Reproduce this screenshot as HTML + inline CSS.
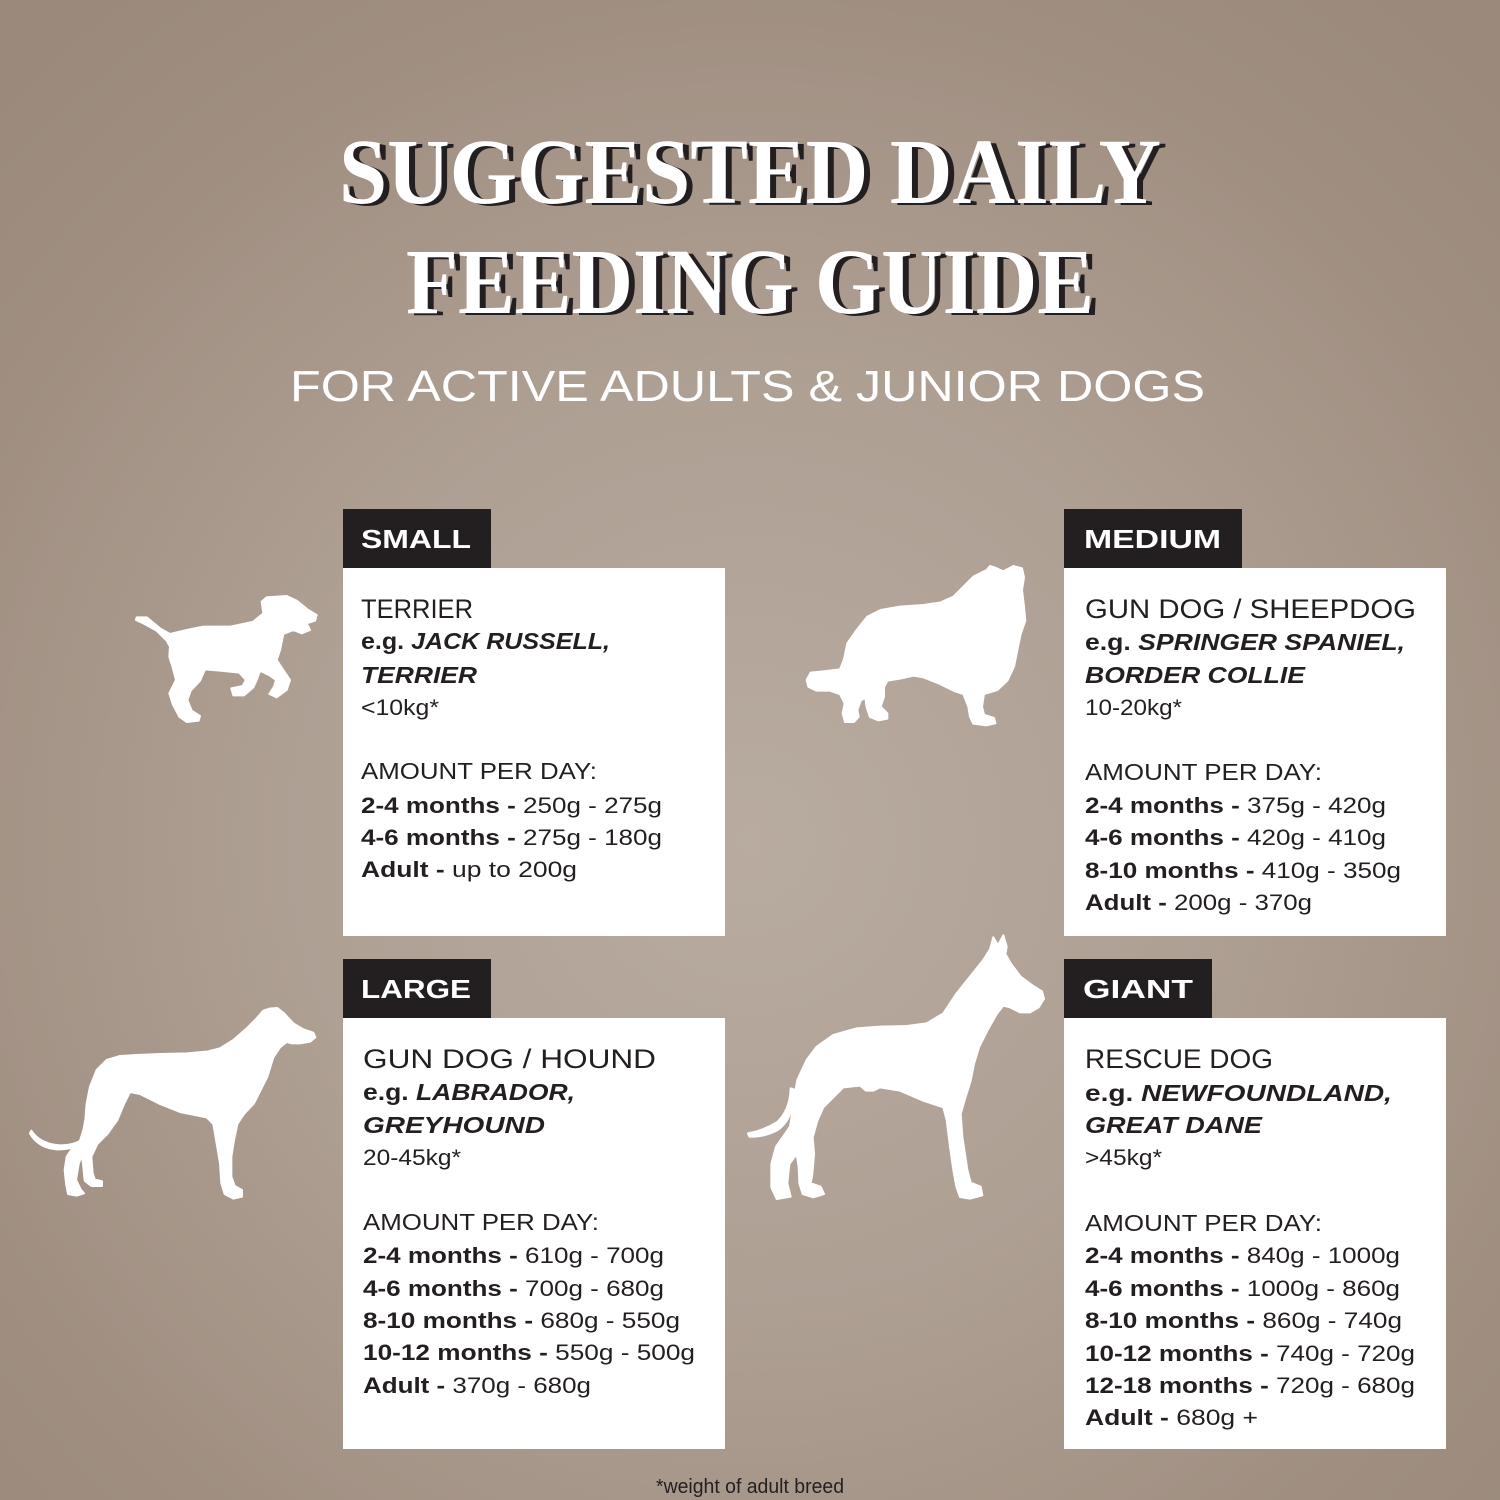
<!DOCTYPE html>
<html>
<head>
<meta charset="utf-8">
<style>
html,body{margin:0;padding:0;}
body{width:1500px;height:1500px;overflow:hidden;background:radial-gradient(ellipse 75% 75% at 50% 56%, #b8aba0 0%, #b1a397 40%, #a59485 75%, #9c8b7d 100%);}
svg{display:block;}
text{font-family:"Liberation Sans",sans-serif;}
.t{font-size:27px;fill:#231f20;}
.eg{font-size:23px;font-weight:bold;fill:#231f20;}
.bi{font-style:italic;}
.kg{font-size:22px;fill:#231f20;}
.amt{font-size:23px;fill:#231f20;}
.row{font-size:22px;fill:#231f20;}
.b{font-weight:bold;}
.lab{font-size:26px;font-weight:bold;fill:#ffffff;}
.ttl{font-family:"Liberation Serif",serif;font-weight:bold;font-size:93px;}
.dog{fill:#ffffff;stroke:#ffffff;stroke-width:6;stroke-linejoin:round;}
</style>
</head>
<body>
<svg width="1500" height="1500" viewBox="0 0 1500 1500" xmlns="http://www.w3.org/2000/svg">
<defs>
<radialGradient id="bg" cx="750" cy="840" r="1060" gradientUnits="userSpaceOnUse">
<stop offset="0" stop-color="#b8aba0"/>
<stop offset="0.45" stop-color="#ae9f93"/>
<stop offset="0.8" stop-color="#a08f81"/>
<stop offset="1" stop-color="#9b8a7c"/>
</radialGradient>
</defs>
<rect x="0" y="0" width="1500" height="1500" fill="url(#bg)"/>

<!-- Title shadow -->
<text class="ttl" x="345" y="205" textLength="822" lengthAdjust="spacingAndGlyphs" fill="#231f20">SUGGESTED DAILY</text>
<text class="ttl" x="412" y="315" textLength="688" lengthAdjust="spacingAndGlyphs" fill="#231f20">FEEDING GUIDE</text>
<!-- Title -->
<text class="ttl" x="339" y="203" textLength="822" lengthAdjust="spacingAndGlyphs" fill="#ffffff">SUGGESTED DAILY</text>
<text class="ttl" x="406" y="313" textLength="688" lengthAdjust="spacingAndGlyphs" fill="#ffffff">FEEDING GUIDE</text>
<text x="290" y="401" font-size="44" fill="#ffffff" textLength="915" lengthAdjust="spacingAndGlyphs">FOR ACTIVE ADULTS &amp; JUNIOR DOGS</text>

<!-- Boxes -->
<rect x="343" y="568" width="382" height="368" fill="#ffffff"/>
<rect x="1064" y="568" width="382" height="368" fill="#ffffff"/>
<rect x="343" y="1018" width="382" height="431" fill="#ffffff"/>
<rect x="1064" y="1018" width="382" height="431" fill="#ffffff"/>
<rect x="343" y="509" width="148" height="59" fill="#231f20"/>
<rect x="1064" y="509" width="178" height="59" fill="#231f20"/>
<rect x="343" y="959" width="148" height="59" fill="#231f20"/>
<rect x="1064" y="959" width="148" height="59" fill="#231f20"/>
<text class="lab" x="361" y="548" textLength="110" lengthAdjust="spacingAndGlyphs">SMALL</text>
<text class="lab" x="1084" y="548" textLength="137" lengthAdjust="spacingAndGlyphs">MEDIUM</text>
<text class="lab" x="361" y="998" textLength="110" lengthAdjust="spacingAndGlyphs">LARGE</text>
<text class="lab" x="1083" y="998" textLength="110" lengthAdjust="spacingAndGlyphs">GIANT</text>

<!-- SMALL -->
<text class="t" x="361" y="618" textLength="112" lengthAdjust="spacingAndGlyphs">TERRIER</text>
<text class="eg" x="361" y="649" textLength="249" lengthAdjust="spacingAndGlyphs">e.g. <tspan class="bi">JACK RUSSELL,</tspan></text>
<text class="eg bi" x="361" y="683" textLength="116" lengthAdjust="spacingAndGlyphs">TERRIER</text>
<text class="kg" x="361" y="715" textLength="78" lengthAdjust="spacingAndGlyphs">&lt;10kg*</text>
<text class="amt" x="361" y="779" textLength="236" lengthAdjust="spacingAndGlyphs">AMOUNT PER DAY:</text>
<text class="row" x="361" y="813" textLength="301" lengthAdjust="spacingAndGlyphs"><tspan class="b">2-4 months -</tspan> 250g - 275g</text>
<text class="row" x="361" y="845" textLength="301" lengthAdjust="spacingAndGlyphs"><tspan class="b">4-6 months -</tspan> 275g - 180g</text>
<text class="row" x="361" y="877" textLength="216" lengthAdjust="spacingAndGlyphs"><tspan class="b">Adult -</tspan> up to 200g</text>

<!-- MEDIUM -->
<text class="t" x="1085" y="618" textLength="331" lengthAdjust="spacingAndGlyphs">GUN DOG / SHEEPDOG</text>
<text class="eg" x="1085" y="650" textLength="320" lengthAdjust="spacingAndGlyphs">e.g. <tspan class="bi">SPRINGER SPANIEL,</tspan></text>
<text class="eg bi" x="1085" y="683" textLength="220" lengthAdjust="spacingAndGlyphs">BORDER COLLIE</text>
<text class="kg" x="1085" y="715" textLength="97" lengthAdjust="spacingAndGlyphs">10-20kg*</text>
<text class="amt" x="1085" y="780" textLength="237" lengthAdjust="spacingAndGlyphs">AMOUNT PER DAY:</text>
<text class="row" x="1085" y="813" textLength="301" lengthAdjust="spacingAndGlyphs"><tspan class="b">2-4 months -</tspan> 375g - 420g</text>
<text class="row" x="1085" y="845" textLength="301" lengthAdjust="spacingAndGlyphs"><tspan class="b">4-6 months -</tspan> 420g - 410g</text>
<text class="row" x="1085" y="878" textLength="316" lengthAdjust="spacingAndGlyphs"><tspan class="b">8-10 months -</tspan> 410g - 350g</text>
<text class="row" x="1085" y="910" textLength="227" lengthAdjust="spacingAndGlyphs"><tspan class="b">Adult -</tspan> 200g - 370g</text>

<!-- LARGE -->
<text class="t" x="363" y="1068" textLength="293" lengthAdjust="spacingAndGlyphs">GUN DOG / HOUND</text>
<text class="eg" x="363" y="1100" textLength="212" lengthAdjust="spacingAndGlyphs">e.g. <tspan class="bi">LABRADOR,</tspan></text>
<text class="eg bi" x="363" y="1133" textLength="182" lengthAdjust="spacingAndGlyphs">GREYHOUND</text>
<text class="kg" x="363" y="1165" textLength="98" lengthAdjust="spacingAndGlyphs">20-45kg*</text>
<text class="amt" x="363" y="1230" textLength="236" lengthAdjust="spacingAndGlyphs">AMOUNT PER DAY:</text>
<text class="row" x="363" y="1263" textLength="301" lengthAdjust="spacingAndGlyphs"><tspan class="b">2-4 months -</tspan> 610g - 700g</text>
<text class="row" x="363" y="1296" textLength="301" lengthAdjust="spacingAndGlyphs"><tspan class="b">4-6 months -</tspan> 700g - 680g</text>
<text class="row" x="363" y="1328" textLength="317" lengthAdjust="spacingAndGlyphs"><tspan class="b">8-10 months -</tspan> 680g - 550g</text>
<text class="row" x="363" y="1360" textLength="332" lengthAdjust="spacingAndGlyphs"><tspan class="b">10-12 months -</tspan> 550g - 500g</text>
<text class="row" x="363" y="1393" textLength="228" lengthAdjust="spacingAndGlyphs"><tspan class="b">Adult -</tspan> 370g - 680g</text>

<!-- GIANT -->
<text class="t" x="1085" y="1068" textLength="188" lengthAdjust="spacingAndGlyphs">RESCUE DOG</text>
<text class="eg" x="1085" y="1101" textLength="307" lengthAdjust="spacingAndGlyphs">e.g. <tspan class="bi">NEWFOUNDLAND,</tspan></text>
<text class="eg bi" x="1085" y="1133" textLength="177" lengthAdjust="spacingAndGlyphs">GREAT DANE</text>
<text class="kg" x="1085" y="1165" textLength="77" lengthAdjust="spacingAndGlyphs">&gt;45kg*</text>
<text class="amt" x="1085" y="1231" textLength="237" lengthAdjust="spacingAndGlyphs">AMOUNT PER DAY:</text>
<text class="row" x="1085" y="1263" textLength="315" lengthAdjust="spacingAndGlyphs"><tspan class="b">2-4 months -</tspan> 840g - 1000g</text>
<text class="row" x="1085" y="1296" textLength="315" lengthAdjust="spacingAndGlyphs"><tspan class="b">4-6 months -</tspan> 1000g - 860g</text>
<text class="row" x="1085" y="1328" textLength="317" lengthAdjust="spacingAndGlyphs"><tspan class="b">8-10 months -</tspan> 860g - 740g</text>
<text class="row" x="1085" y="1361" textLength="330" lengthAdjust="spacingAndGlyphs"><tspan class="b">10-12 months -</tspan> 740g - 720g</text>
<text class="row" x="1085" y="1393" textLength="330" lengthAdjust="spacingAndGlyphs"><tspan class="b">12-18 months -</tspan> 720g - 680g</text>
<text class="row" x="1085" y="1425" textLength="173" lengthAdjust="spacingAndGlyphs"><tspan class="b">Adult -</tspan> 680g +</text>

<!-- Footnote -->
<text x="656" y="1493" font-size="20" fill="#231f20" textLength="188" lengthAdjust="spacingAndGlyphs">*weight of adult breed</text>

<!-- Small dog (terrier) -->
<g transform="translate(120,580) scale(0.33333)" class="dog">
<path d="M50,112 L80,112 L120,145 L150,162 L200,150 L250,140 L330,140 L400,125 L430,100 L425,65 L440,52 L500,48 L530,62 L565,90 L590,105 L585,122 L560,130 L570,150 L545,160 L520,150 L490,162 L480,210 L470,240 L490,270 L510,300 L500,330 L470,352 L448,342 L462,320 L468,300 L450,287 L420,272 L410,300 L400,322 L372,346 L340,346 L334,325 L368,318 L378,300 L358,278 L300,272 L255,268 L240,302 L212,332 L202,360 L215,392 L240,408 L236,422 L200,426 L178,410 L158,372 L148,340 L168,300 L158,262 L148,230 L150,200 L140,182 L110,152 L70,130 L48,120 Z"/>
</g>

<!-- Medium dog (collie) -->
<g transform="translate(790,550) scale(0.33333)" class="dog">
<path d="M50,390 L62,368 L100,364 L150,358 L162,328 L172,280 L200,240 L232,200 L272,180 L330,170 L400,165 L450,158 L490,140 L520,110 L550,80 L590,60 L600,48 L618,54 L640,64 L670,48 L696,55 L702,82 L696,120 L702,170 L706,212 L692,252 L682,300 L672,350 L652,392 L622,420 L582,432 L576,470 L582,494 L612,504 L616,520 L590,526 L550,521 L540,500 L535,470 L520,432 L490,422 L450,402 L400,382 L370,377 L330,386 L292,392 L282,412 L282,440 L272,470 L292,490 L292,506 L265,511 L240,501 L230,472 L226,442 L212,452 L202,480 L206,500 L192,516 L165,516 L158,490 L164,460 L150,432 L120,422 L80,422 L55,410 Z"/>
</g>

<!-- Large dog (greyhound) -->
<g transform="translate(20,990) scale(0.33333)" class="dog">
<path d="M180,452 L190,420 L196,390 L200,340 L210,290 L230,240 L260,210 L300,198 L350,195 L420,192 L500,190 L560,185 L600,175 L640,150 L680,115 L710,85 L730,62 L748,56 L772,54 L792,70 L820,100 L850,118 L880,128 L886,142 L870,155 L840,160 L815,160 L800,156 L780,172 L760,202 L742,260 L722,300 L702,340 L672,372 L652,402 L642,450 L634,500 L634,560 L644,588 L666,600 L666,620 L640,626 L614,612 L604,580 L600,520 L590,460 L580,402 L560,382 L480,366 L420,342 L360,312 L330,306 L312,342 L292,390 L262,432 L232,462 L214,500 L218,550 L224,568 L246,574 L246,588 L214,588 L194,572 L190,532 L186,494 L176,522 L168,570 L182,598 L192,610 L170,617 L144,612 L138,580 L134,540 L140,500 L160,470 Z"/>
<path d="M34,422 Q60,462 120,466 Q160,466 185,450 L182,462 Q150,480 110,478 Q55,474 30,430 Z"/>
</g>

<!-- Giant dog (great dane) -->
<g transform="translate(740,920) scale(0.33333)" class="dog">
<path d="M760,52 L774,76 L790,46 L800,80 L796,102 L812,130 L842,170 L880,198 L906,214 L912,236 L896,262 L870,277 L840,277 L810,262 L790,257 L770,282 L742,332 L717,382 L702,432 L692,482 L674,540 L662,582 L667,650 L682,750 L692,788 L722,800 L727,826 L690,836 L660,831 L649,800 L640,750 L630,680 L620,600 L610,562 L550,542 L480,512 L420,502 L400,512 L378,512 L360,497 L310,502 L280,532 L250,562 L232,602 L218,652 L222,702 L217,762 L212,790 L242,800 L252,822 L220,832 L188,822 L178,790 L176,740 L170,702 L148,732 L142,790 L152,830 L110,837 L94,802 L94,732 L108,680 L150,620 L160,560 L165,520 L172,480 L200,420 L230,380 L280,345 L350,325 L420,320 L500,318 L560,310 L610,280 L650,220 L690,170 L730,120 L750,88 Z"/>
<path d="M166,510 Q160,600 110,632 Q70,652 28,650 L24,640 Q70,632 112,606 Q150,570 152,505 Z"/>
</g>
</svg>
</body>
</html>
